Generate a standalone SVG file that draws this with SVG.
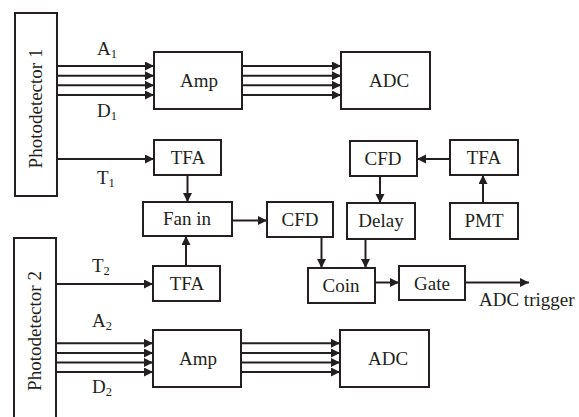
<svg xmlns="http://www.w3.org/2000/svg" width="579" height="417" viewBox="0 0 579 417">
<defs>
<style>
rect{fill:#fff;stroke:#231f20;stroke-width:2}
text{font-family:"Liberation Serif","Times New Roman",serif;font-size:19px;fill:#231f20}
.c{text-anchor:middle}
.sub{font-size:12.5px}
.ln{stroke:#231f20;stroke-width:2;fill:none}
.ar{marker-end:url(#ah)}
</style>
<marker id="ah" markerUnits="userSpaceOnUse" markerWidth="10" markerHeight="10" refX="9" refY="4.5" orient="auto">
<path d="M0,0 L9,4.5 L0,9 z" fill="#231f20"/>
</marker>
</defs>
<rect x="0" y="0" width="579" height="417" style="fill:#fff;stroke:none"/>
<g id="connectors">
<line class="ln ar" x1="57" y1="66" x2="154" y2="66"/>
<line class="ln ar" x1="57" y1="75.7" x2="154" y2="75.7"/>
<line class="ln ar" x1="57" y1="85.3" x2="154" y2="85.3"/>
<line class="ln ar" x1="57" y1="95" x2="154" y2="95"/>
<line class="ln ar" x1="242" y1="66" x2="341" y2="66"/>
<line class="ln ar" x1="242" y1="75.7" x2="341" y2="75.7"/>
<line class="ln ar" x1="242" y1="85.3" x2="341" y2="85.3"/>
<line class="ln ar" x1="242" y1="95" x2="341" y2="95"/>
<line class="ln ar" x1="57" y1="159" x2="154" y2="159"/>
<line class="ln ar" x1="187.5" y1="175" x2="187.5" y2="202"/>
<line class="ln ar" x1="186" y1="266" x2="186" y2="236"/>
<line class="ln ar" x1="56" y1="284" x2="153" y2="284"/>
<line class="ln ar" x1="232" y1="220.5" x2="267" y2="220.5"/>
<line class="ln ar" x1="450" y1="159" x2="417" y2="159"/>
<line class="ln ar" x1="483" y1="203" x2="483" y2="175"/>
<line class="ln ar" x1="380" y1="176" x2="380" y2="203"/>
<line class="ln ar" x1="321.5" y1="237" x2="321.5" y2="268"/>
<line class="ln ar" x1="365.5" y1="239" x2="365.5" y2="268"/>
<line class="ln ar" x1="375" y1="282.5" x2="399" y2="282.5"/>
<line class="ln ar" x1="465" y1="282.5" x2="529" y2="282.5"/>
<line class="ln ar" x1="56" y1="343.3" x2="153" y2="343.3"/>
<line class="ln ar" x1="56" y1="353" x2="153" y2="353"/>
<line class="ln ar" x1="56" y1="362.5" x2="153" y2="362.5"/>
<line class="ln ar" x1="56" y1="372" x2="153" y2="372"/>
<line class="ln ar" x1="241" y1="343.3" x2="340" y2="343.3"/>
<line class="ln ar" x1="241" y1="353" x2="340" y2="353"/>
<line class="ln ar" x1="241" y1="362.5" x2="340" y2="362.5"/>
<line class="ln ar" x1="241" y1="372" x2="340" y2="372"/>
</g>
<g id="labels">
<text x="97" y="55">A<tspan class="sub" dy="3">1</tspan></text>
<text x="97" y="117">D<tspan class="sub" dy="3">1</tspan></text>
<text x="97" y="184">T<tspan class="sub" dy="3">1</tspan></text>
<text x="92" y="272">T<tspan class="sub" dy="3">2</tspan></text>
<text x="92" y="327">A<tspan class="sub" dy="3">2</tspan></text>
<text x="92" y="393">D<tspan class="sub" dy="3">2</tspan></text>
<text x="479" y="306">ADC trigger</text>
</g>
<g id="photodetector1">
<rect x="15" y="13" width="42" height="183"/>
<text class="c" transform="translate(42,108.5) rotate(-90)">Photodetector 1</text>
</g>
<g id="photodetector2">
<rect x="14" y="238" width="42" height="190"/>
<text class="c" transform="translate(41,331) rotate(-90)">Photodetector 2</text>
</g>
<g id="amp1"><rect x="154" y="52" width="88" height="57"/><text class="c" x="199" y="87">Amp</text></g>
<g id="adc1"><rect x="341" y="52" width="89" height="57"/><text class="c" x="389" y="87">ADC</text></g>
<g id="tfa1"><rect x="154" y="140" width="67" height="35"/><text class="c" x="188" y="164">TFA</text></g>
<g id="fanin"><rect x="143" y="202" width="89" height="34"/><text class="c" x="187" y="225">Fan in</text></g>
<g id="tfa2"><rect x="153" y="266" width="67" height="35"/><text class="c" x="187" y="290">TFA</text></g>
<g id="cfd1"><rect x="267" y="202" width="66" height="35"/><text class="c" x="300" y="226">CFD</text></g>
<g id="cfd2"><rect x="350" y="141" width="67" height="35"/><text class="c" x="383" y="165">CFD</text></g>
<g id="tfa3"><rect x="450" y="140" width="68" height="35"/><text class="c" x="484" y="164">TFA</text></g>
<g id="delay"><rect x="347" y="203" width="68" height="36"/><text class="c" x="381" y="227">Delay</text></g>
<g id="pmt"><rect x="450" y="203" width="68" height="36"/><text class="c" x="484" y="227">PMT</text></g>
<g id="coin"><rect x="308" y="268" width="67" height="35"/><text class="c" x="341" y="291.5">Coin</text></g>
<g id="gate"><rect x="399" y="266" width="66" height="34"/><text class="c" x="432" y="289.5">Gate</text></g>
<g id="amp2"><rect x="153" y="330" width="88" height="57"/><text class="c" x="198" y="365">Amp</text></g>
<g id="adc2"><rect x="340" y="330" width="89" height="57"/><text class="c" x="388" y="365">ADC</text></g>
</svg>
